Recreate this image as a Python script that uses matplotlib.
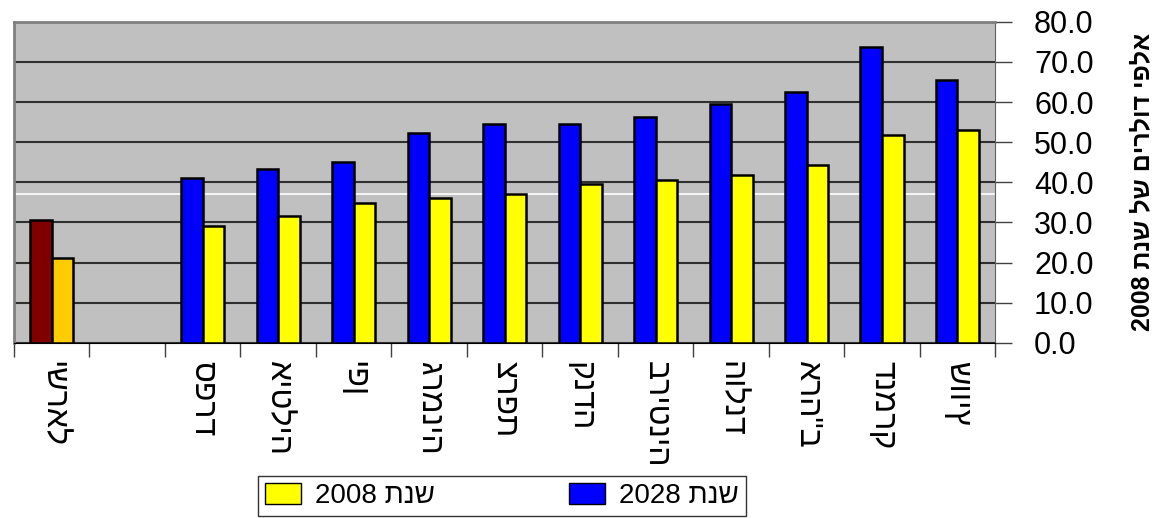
import re
import matplotlib.pyplot as plt
import numpy as np

plt.rcParams["font.family"] = ["Liberation Sans", "DejaVu Sans"]

# Daten
countries = ["ישראל", "", "ספרד", "איטליה", "יפן", "גרמניה", "צרפת", "קנדה",
             "בריטניה", "הולנד", 'ארה"ב', "דנמרק", "שוויץ"]
val_2028 = [30.5, np.nan, 41.1, 43.4, 45.1, 52.3, 54.6, 54.5, 56.3, 59.4, 62.6, 73.8, 65.6]
val_2008 = [21.1, np.nan, 29.0, 31.7, 34.9, 36.2, 37.1, 39.6, 40.7, 41.9, 44.2, 51.8, 53.1]
ref_line = 37.1
legend_2008 = "שנת 2008"
legend_2028 = "שנת 2028"
ylabel = "אלפי דולרים של שנת 2008"


def visual(s):
    # matplotlib kennt kein bidi: Zeichen umdrehen, Ziffern wieder richtig herum
    r = s[::-1]
    return re.sub(r"\d+", lambda m: m.group(0)[::-1], r)


x = np.arange(len(countries))
w = 0.285
col_28 = ["#800000"] + ["#0000FF"] * (len(countries) - 1)
col_08 = ["#FFCC00"] + ["#FFFF00"] * (len(countries) - 1)

fig = plt.figure(figsize=(11.64, 5.18), dpi=100)
ax = fig.add_axes([0.012, 0.338, 0.843, 0.62])
ax.set_facecolor("#C0C0C0")

ax.set_ylim(0, 80)
ax.set_xlim(-0.5, len(countries) - 0.5)
ax.set_yticks(np.arange(0, 81, 10))
ax.grid(axis="y", color="#303030", linewidth=1.5, zorder=1)
ax.axhline(ref_line, color="white", linewidth=1.2, zorder=1.5)

ax.bar(x - w / 2, val_2028, w, color=col_28, edgecolor="black", linewidth=1.8, zorder=2)
ax.bar(x + w / 2, val_2008, w, color=col_08, edgecolor="black", linewidth=1.8, zorder=2)

# y-Achse rechts
ax.yaxis.tick_right()
ax.yaxis.set_label_position("right")
ax.set_yticklabels([f"{v:.1f}" for v in np.arange(0, 81, 10)], fontsize=22)
ax.tick_params(axis="y", length=12, width=1, pad=16, color="#404040")
ax.set_ylabel(visual(ylabel), fontsize=18, fontweight="bold", rotation=90, labelpad=26)

# Kategoriegrenzen als Striche, Namen dazwischen
ax.set_xticks(np.arange(-0.5, len(countries)), labels=[])
ax.set_xticks(x, labels=countries, minor=True, rotation=-90, fontsize=23, va="top")
ax.tick_params(axis="x", which="major", length=10, width=1, color="#404040")
ax.tick_params(axis="x", which="minor", length=0, pad=13)

for s in ["left", "top"]:
    ax.spines[s].set_color("#808080")
    ax.spines[s].set_linewidth(2)
ax.spines["right"].set_color("#606060")
ax.spines["bottom"].set_color("black")

h08 = plt.Rectangle((0, 0), 1, 1, facecolor="#FFFF00", edgecolor="black")
h28 = plt.Rectangle((0, 0), 1, 1, facecolor="#0000FF", edgecolor="black")
leg = fig.legend([h08, h28], [visual(legend_2008), visual(legend_2028)], ncol=2,
                 loc="upper left", mode="expand",
                 bbox_to_anchor=(258 / 1164, 0, 488 / 1164, 1 - 476 / 518),
                 fontsize=20, frameon=True, fancybox=False, edgecolor="black",
                 handlelength=1.3, handleheight=0.8, columnspacing=1.0,
                 borderpad=0.25, handletextpad=0.5, borderaxespad=0)
leg.get_frame().set_linewidth(1)

fig.savefig("out.png", dpi=100)
